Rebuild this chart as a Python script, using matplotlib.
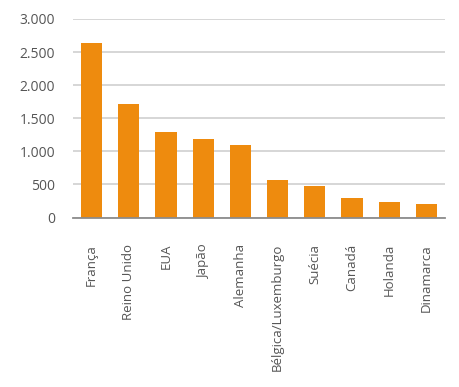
import matplotlib
matplotlib.use("Agg")
import matplotlib.pyplot as plt
from matplotlib.ticker import FuncFormatter

paises = ["França", "Reino Unido", "EUA", "Japão", "Alemanha",
          "Bélgica/Luxemburgo", "Suécia", "Canadá", "Holanda", "Dinamarca"]
valores = [2640, 1710, 1290, 1190, 1100, 560, 480, 300, 240, 205]
yticks = [0, 500, 1000, 1500, 2000, 2500, 3000]

plt.rcParams["font.family"] = ["Open Sans", "DejaVu Sans"]

fig = plt.figure(figsize=(4.6, 3.87), dpi=100)
ax = fig.add_axes([73 / 460, 1 - 217.5 / 387, 372 / 460, 198.5 / 387])

ax.bar(range(len(paises)), valores, width=0.57, color="#EE8B0E", zorder=3)

ax.set_xlim(-0.5, len(paises) - 0.5)
ax.set_ylim(0, 3000)
ax.set_yticks(yticks)
ax.yaxis.set_major_formatter(FuncFormatter(lambda v, p: f"{int(v):,}".replace(",", ".")))
ax.grid(axis="y", color="#d6d6d6", linewidth=1.4, zorder=0)
ax.set_axisbelow(True)

for s in ["top", "right", "left"]:
    ax.spines[s].set_visible(False)
ax.spines["bottom"].set_color("#8c8c8c")
ax.spines["bottom"].set_linewidth(1.3)
ax.spines["bottom"].set_zorder(4)

ax.set_xticks(range(len(paises)))
ax.set_xticklabels(paises, rotation=90, va="top", ha="center")
ax.tick_params(axis="x", length=0, pad=19, labelsize=9.5, labelcolor="#555555")
ax.tick_params(axis="y", length=0, pad=13, labelsize=10, labelcolor="#555555")

fig.savefig("out.png", dpi=100)
